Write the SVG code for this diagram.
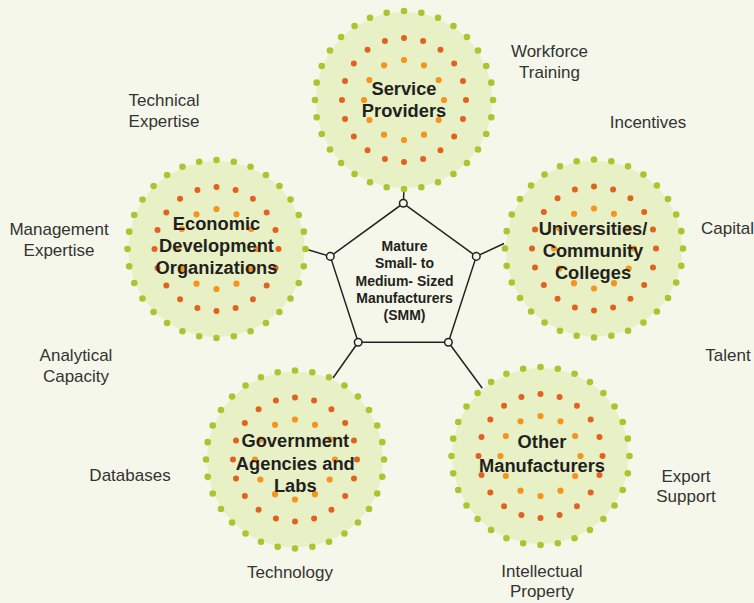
<svg xmlns="http://www.w3.org/2000/svg" xmlns:xlink="http://www.w3.org/1999/xlink" width="754" height="603" viewBox="0 0 754 603">
<style>
.bg{fill:#f5f7ea}
.disc{fill:#e8f0c6}
.g{fill:none;stroke:#a9c52f;stroke-width:6.6;stroke-linecap:round;stroke-dasharray:0 1}
.r{fill:none;stroke:#e0621e;stroke-width:6;stroke-linecap:round;stroke-dasharray:0 1}
.o{fill:none;stroke:#f7941d;stroke-width:6.2;stroke-linecap:round;stroke-dasharray:0 1}
.nl{font-family:"Liberation Sans",Arial,sans-serif;font-weight:bold;font-size:18.3px;fill:#231f20;text-anchor:middle}
.cl{font-family:"Liberation Sans",Arial,sans-serif;font-weight:bold;font-size:14px;fill:#231f20;text-anchor:middle}
.lb{font-family:"Liberation Sans",Arial,sans-serif;font-size:17px;fill:#333333;text-anchor:middle}
.ln{fill:none;stroke:#222;stroke-width:1.5}
.vx{fill:#f5f7ea;stroke:#222;stroke-width:1.5}
</style>
<defs>
<g id="dots">
<circle class="disc" r="88"/>
<circle class="g" r="89" pathLength="32"/>
<circle class="r" r="62" pathLength="20"/>
<circle class="o" r="40" pathLength="12"/>
</g>
</defs>
<rect class="bg" width="754" height="603"/>

<g id="connectors">
<path class="ln" d="M403.3 203.3 L404 189"/>
<path class="ln" d="M330.3 256.4 L305.5 249"/>
<path class="ln" d="M476.3 256.4 L504 243.5"/>
<path class="ln" d="M358.2 342.3 L333 378"/>
<path class="ln" d="M448.4 342.3 L482.3 388.3"/>
</g>

<g id="service-providers">
<use xlink:href="#dots" href="#dots" x="404" y="100"/>
<text class="nl" x="404" y="95">Service</text>
<text class="nl" x="404" y="116.7">Providers</text>
</g>

<g id="economic-development">
<use xlink:href="#dots" href="#dots" x="216.5" y="249"/>
<text class="nl" x="216.5" y="230">Economic</text>
<text class="nl" x="216.5" y="252">Development</text>
<text class="nl" x="216.5" y="274">Organizations</text>
</g>

<g id="universities">
<use xlink:href="#dots" href="#dots" x="594" y="248.5"/>
<text class="nl" x="593" y="235">Universities/</text>
<text class="nl" x="593" y="257">Community</text>
<text class="nl" x="593" y="279.3">Colleges</text>
</g>

<g id="government">
<use xlink:href="#dots" href="#dots" x="295" y="459.5"/>
<text class="nl" x="295.3" y="447.3">Government</text>
<text class="nl" x="295.3" y="470">Agencies and</text>
<text class="nl" x="295.3" y="491.7">Labs</text>
</g>

<g id="other-manufacturers">
<use xlink:href="#dots" href="#dots" x="540.5" y="456"/>
<text class="nl" x="542" y="448.3">Other</text>
<text class="nl" x="542" y="471.7">Manufacturers</text>
</g>

<g id="smm">
<polygon class="ln" points="403.3,203.3 476.3,256.4 448.4,342.3 358.2,342.3 330.3,256.4"/>
<circle class="vx" cx="403.3" cy="203.3" r="3.8"/>
<circle class="vx" cx="476.3" cy="256.4" r="3.8"/>
<circle class="vx" cx="448.4" cy="342.3" r="3.8"/>
<circle class="vx" cx="358.2" cy="342.3" r="3.8"/>
<circle class="vx" cx="330.3" cy="256.4" r="3.8"/>
<text class="cl" x="404.5" y="251">Mature</text>
<text class="cl" x="404.5" y="268.3">Small- to</text>
<text class="cl" x="404.5" y="285.6">Medium- Sized</text>
<text class="cl" x="404.5" y="302.9">Manufacturers</text>
<text class="cl" x="404.5" y="320.2">(SMM)</text>
</g>

<g id="labels">
<text class="lb" x="549.5" y="56.7">Workforce</text>
<text class="lb" x="549.5" y="78.3">Training</text>
<text class="lb" x="164" y="106">Technical</text>
<text class="lb" x="164" y="127">Expertise</text>
<text class="lb" x="648" y="128.3">Incentives</text>
<text class="lb" x="59" y="235">Management</text>
<text class="lb" x="59" y="255.5">Expertise</text>
<text class="lb" x="701" y="234" style="text-anchor:start">Capital</text>
<text class="lb" x="76" y="361">Analytical</text>
<text class="lb" x="76" y="382">Capacity</text>
<text class="lb" x="728" y="361">Talent</text>
<text class="lb" x="130" y="481">Databases</text>
<text class="lb" x="686" y="481.7">Export</text>
<text class="lb" x="686" y="502">Support</text>
<text class="lb" x="290" y="578">Technology</text>
<text class="lb" x="542" y="576.7">Intellectual</text>
<text class="lb" x="542" y="597">Property</text>
</g>
</svg>
